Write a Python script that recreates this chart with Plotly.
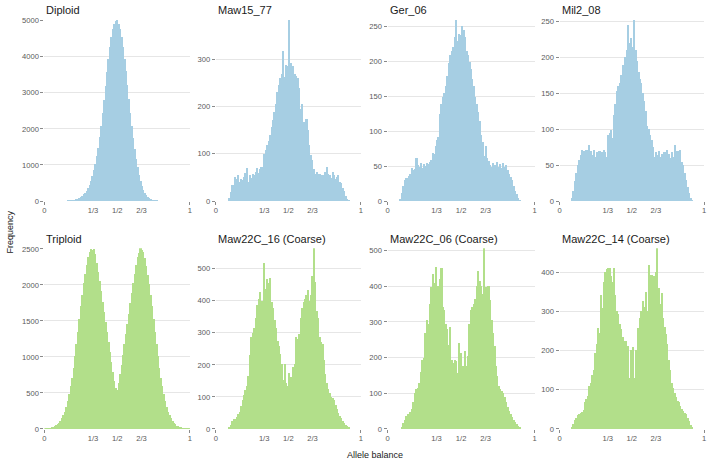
import numpy as np
import plotly.graph_objects as go

# ---------------- data (counts per 0.01-wide allele-balance bin, 0..1) ----------------
titles = ["Diploid", "Maw15_77", "Ger_06", "Mil2_08",
          "Triploid", "Maw22C_16 (Coarse)", "Maw22C_06 (Coarse)", "Maw22C_14 (Coarse)"]

diploid = [0, 0, 0, 1, 1, 1, 2, 2, 3, 3,
           4, 5, 6, 7, 9, 11, 14, 17, 22, 28,
           36, 46, 58, 74, 94, 120, 152, 192, 240, 300,
           375, 465, 570, 700, 860, 1040, 1250, 1490, 1770, 2090,
           2440, 2810, 3190, 3570, 3930, 4260, 4540, 4760, 4910, 5000,
           5020, 4920, 4770, 4550, 4270, 3950, 3600, 3220, 2840, 2460,
           2100, 1760, 1450, 1180, 940, 740, 570, 435, 325, 240,
           175, 126, 90, 64, 45, 32, 23, 16, 11, 8,
           6, 4, 3, 2, 2, 1, 1, 1, 0, 0,
           0, 0, 0, 0, 0, 0, 0, 0, 0, 0]

maw15_77 = [0, 0, 0, 0, 0, 0, 0, 0, 0, 8,
            20, 35, 33, 52, 48, 55, 42, 48, 45, 52,
            60, 70, 40, 55, 50, 58, 56, 62, 70, 60,
            68, 72, 62, 100, 108, 120, 128, 140, 158, 172,
            188, 205, 230, 245, 261, 268, 318, 262, 288, 285,
            383, 292, 280, 285, 270, 265, 261, 240, 195, 205,
            168, 160, 175, 150, 120, 99, 88, 68, 58, 62,
            55, 58, 52, 55, 50, 62, 72, 58, 55, 50,
            62, 55, 48, 52, 55, 42, 38, 28, 22, 12,
            6, 2, 0, 0, 0, 0, 0, 0, 0, 0]

ger_06 = [0, 0, 0, 0, 0, 0, 0, 0, 3, 12,
          22, 30, 33, 34, 36, 40, 48, 45, 47, 62,
          52, 50, 55, 48, 53, 51, 55, 54, 56, 60,
          70, 68, 80, 88, 92, 126, 140, 150, 155, 165,
          180, 198, 210, 215, 222, 235, 260, 230, 240, 238,
          252, 245, 235, 215, 210, 200, 190, 175, 165, 150,
          140, 128, 115, 95, 85, 65, 80, 62, 58, 52,
          50, 55, 52, 48, 57, 50, 53, 48, 55, 50,
          52, 45, 40, 35, 30, 22, 15, 10, 5, 2,
          0, 0, 0, 0, 0, 0, 0, 0, 0, 0]

mil2_08 = [0, 0, 0, 0, 0, 0, 0, 0, 5, 15,
           28, 40, 50, 58, 65, 72, 70, 68, 72, 62,
           78, 70, 65, 72, 62, 68, 64, 70, 60, 68,
           72, 68, 62, 92, 95, 99, 88, 120, 135, 153,
           160, 165, 175, 189, 182, 200, 210, 245, 220, 227,
           215, 252, 210, 195, 180, 170, 165, 150, 140, 125,
           105, 100, 92, 85, 75, 62, 68, 65, 70, 62,
           66, 60, 68, 64, 72, 66, 60, 68, 62, 78,
           66, 70, 68, 72, 55, 50, 40, 30, 20, 12,
           5, 1, 0, 0, 0, 0, 0, 0, 0, 0]

triploid = [1, 2, 4, 6, 9, 14, 22, 34, 50, 65,
            85, 110, 145, 185, 235, 300, 380, 480, 590, 710,
            850, 1010, 1180, 1350, 1530, 1700, 1860, 2020, 2150, 2270,
            2380, 2450, 2490, 2480, 2500, 2420, 2300, 2180, 2050, 1910,
            1760, 1620, 1480, 1340, 1200, 1060, 920, 790, 670, 560,
            540, 640, 760, 890, 1030, 1170, 1310, 1450, 1600, 1740,
            1880, 2020, 2150, 2270, 2380, 2440, 2510, 2480, 2450, 2370,
            2260, 2140, 2010, 1860, 1700, 1530, 1350, 1180, 1010, 850,
            710, 590, 480, 380, 300, 235, 185, 145, 110, 85,
            62, 45, 32, 22, 15, 10, 7, 4, 2, 1]

maw22c_16 = [0, 0, 0, 0, 0, 0, 0, 0, 0, 5,
             12, 25, 30, 30, 38, 45, 52, 70, 90, 105,
             122, 132, 165, 230, 285, 300, 315, 345, 385, 405,
             428, 400, 355, 518, 437, 467, 455, 470, 396, 376,
             340, 315, 274, 259, 234, 203, 152, 203, 142, 132,
             173, 160, 142, 193, 203, 285, 280, 295, 345, 376,
             396, 405, 417, 432, 400, 417, 478, 564, 457, 366,
             345, 285, 270, 264, 213, 170, 142, 125, 112, 100,
             95, 91, 75, 61, 50, 41, 33, 25, 18, 12,
             8, 3, 0, 0, 0, 0, 0, 0, 0, 0]

maw22c_06 = [0, 0, 0, 0, 0, 0, 0, 0, 0, 5,
             15, 25, 37, 40, 42, 46, 54, 74, 101, 111,
             115, 129, 160, 194, 198, 268, 304, 295, 350, 397,
             434, 410, 454, 378, 401, 420, 452, 341, 332, 295,
             280, 235, 286, 194, 185, 194, 189, 157, 240, 212,
             160, 175, 217, 175, 203, 295, 332, 341, 350, 364,
             400, 443, 415, 401, 378, 507, 397, 380, 401, 360,
             304, 268, 231, 175, 148, 120, 112, 105, 101, 88,
             74, 62, 51, 42, 32, 25, 18, 14, 8, 3,
             0, 0, 0, 0, 0, 0, 0, 0, 0, 0]

maw22c_14 = [0, 0, 0, 0, 0, 0, 0, 0, 3, 12,
             22, 28, 35, 37, 40, 42, 48, 67, 75, 83,
             108, 117, 137, 150, 192, 217, 258, 245, 342, 308,
             375, 400, 408, 410, 410, 390, 375, 410, 342, 300,
             292, 267, 255, 233, 192, 225, 179, 212, 129, 200,
             208, 129, 200, 187, 258, 283, 300, 325, 310, 350,
             300, 417, 371, 392, 358, 390, 400, 461, 358, 317,
             346, 283, 260, 242, 217, 175, 150, 117, 105, 92,
             80, 72, 67, 58, 50, 45, 40, 37, 28, 21,
             10, 3, 0, 0, 0, 0, 0, 0, 0, 0]

series = [diploid, maw15_77, ger_06, mil2_08, triploid, maw22c_16, maw22c_06, maw22c_14]
y_dticks = [1000, 100, 50, 50, 500, 100, 100, 100]
x_tickvals = [0, 1 / 3, 1 / 2, 2 / 3, 1]
x_ticktext = ["0", "1/3", "1/2", "2/3", "1"]
colors = ["#a6cee3"] * 4 + ["#b2df8a"] * 4

# ---------------- layout geometry ----------------
W, H = 709, 466
col_px = [(42.7, 189.0), (215.0, 361.0), (387.7, 535.7), (560.7, 706.0)]
row_px = [(16.0, 201.0), (249.0, 433.3)]

nbins = 100
edges = np.linspace(0, 1, nbins + 1)
centers = (edges[:-1] + edges[1:]) / 2
bw = edges[1] - edges[0]

tick_font = dict(family="Liberation Sans, Arial, sans-serif", size=7.6, color="#5a5a5a")

fig = go.Figure()
layout = dict(
    width=W, height=H, margin=dict(l=0, r=0, t=0, b=0),
    paper_bgcolor="white", plot_bgcolor="white",
    showlegend=False, bargap=0, barmode="overlay",
    annotations=[],
)

for k, (name, counts) in enumerate(zip(titles, series)):
    r, c = divmod(k, 4)
    n = k + 1
    xs = "" if n == 1 else str(n)
    xd = [col_px[c][0] / W, col_px[c][1] / W]
    yd = [1 - row_px[r][1] / H, 1 - row_px[r][0] / H]
    # slight overlap of neighbouring bars hides anti-aliasing seams
    fig.add_trace(go.Bar(
        x=centers, y=counts, width=bw * 1.12,
        marker=dict(color=colors[k], line=dict(width=0)),
        xaxis="x" + xs, yaxis="y" + xs, hoverinfo="x+y",
    ))
    layout["xaxis" + xs] = dict(
        domain=xd, range=[0, 1], anchor="y" + xs,
        tickvals=x_tickvals, ticktext=x_ticktext, ticks="",
        showgrid=False, zeroline=False, showline=False,
        tickfont=tick_font, ticklabelstandoff=3,
    )
    layout["yaxis" + xs] = dict(
        domain=yd, range=[0, max(counts)], anchor="x" + xs,
        tick0=0, dtick=y_dticks[k], ticks="outside", ticklen=3,
        tickcolor="#8a8a8a", tickwidth=1,
        showgrid=True, gridcolor="#e6e6e6", gridwidth=1,
        zeroline=False, showline=False, tickfont=tick_font,
    )
    # end ticks at 0 and 1 on the x axis
    m = k + 9
    layout["xaxis" + str(m)] = dict(
        domain=xd, range=[0, 1], anchor="y" + xs, overlaying="x" + xs,
        tickvals=[0, 1], ticks="outside", ticklen=3, tickcolor="#8a8a8a",
        showticklabels=False, showgrid=False, zeroline=False, showline=False,
    )
    fig.add_trace(go.Scatter(x=[None], y=[None], xaxis="x" + str(m), yaxis="y" + xs,
                             mode="markers", hoverinfo="skip"))
    layout["annotations"].append(dict(
        text=name, xref="paper", yref="paper",
        x=col_px[c][0] / W, y=1 - (row_px[r][0] - 9.5) / H,
        xanchor="left", yanchor="middle", showarrow=False,
        font=dict(family="Liberation Sans, Arial, sans-serif", size=11, color="#1a1a1a"),
    ))

axis_title_font = dict(family="Liberation Sans, Arial, sans-serif", size=9, color="#1a1a1a")
layout["annotations"].append(dict(
    text="Allele balance", xref="paper", yref="paper",
    x=375 / W, y=1 - 460 / H, xanchor="center", yanchor="middle",
    showarrow=False, font=axis_title_font))
layout["annotations"].append(dict(
    text="Frequency", xref="paper", yref="paper",
    x=8 / W, y=1 - 232 / H, xanchor="center", yanchor="middle",
    textangle=-90, showarrow=False, font=axis_title_font))

fig.update_layout(**layout)
fig.write_html("out.html")
